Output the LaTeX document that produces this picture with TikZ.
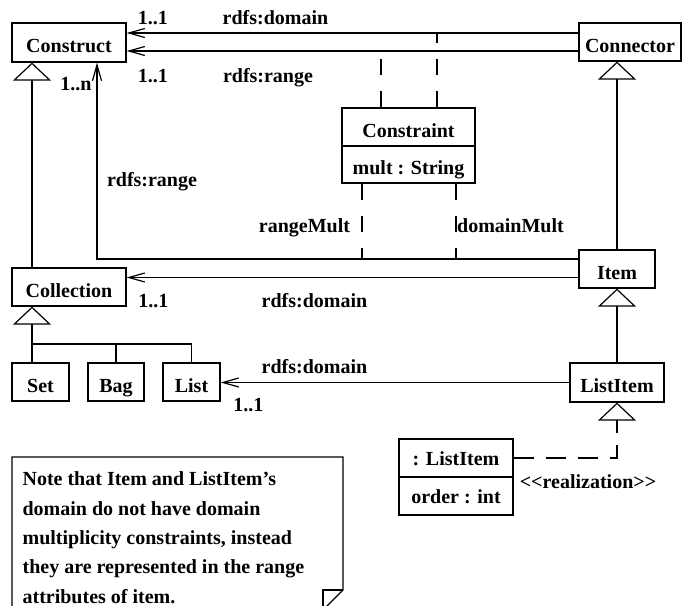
\documentclass[tikz,border=0pt]{standalone}
\usepackage{fontspec}
\setmainfont{Liberation Serif}
\usetikzlibrary{arrows.meta}
\begin{document}
\begin{tikzpicture}[x=0.5pt,y=-0.5pt,
  font=\fontsize{10}{14.65}\selectfont\bfseries,
  line width=0.6pt,
  cls/.style={draw, rectangle, inner sep=0pt, text height=10pt, text depth=0pt, minimum height=19pt},
  lbl/.style={anchor=base, inner sep=0pt},
  assoc/.style={-{Straight Barb[length=8pt,width=4.5pt]}},
  inherit/.style={-{Triangle[open,length=9pt,width=19pt]}},
  constr/.style={dash pattern=on 8pt off 8pt},
  realize/.style={dash pattern=on 10pt off 6pt, -{Triangle[open,length=9pt,width=19pt]}},
]
\useasboundingbox (0,0) rectangle (682,606);

% classes
\node[cls, minimum width=57pt, minimum height=19.5pt] (construct) at (69,42.5) {Construct};
\node[cls, minimum width=51pt] (connector) at (630,42) {Connector};
\node[cls, minimum width=66.5pt] (constraint) at (408.5,127) {Constraint};
\node[cls, minimum width=66.5pt, minimum height=18.5pt] (constraintattr) at (408.5,164.5) {mult : String};
\node[cls, minimum width=57pt] (collection) at (69,287) {Collection};
\node[cls, minimum width=38pt] (item) at (617,269) {Item};
\node[cls, minimum width=47pt, minimum height=19.5pt] (listitem) at (617,382.5) {ListItem};
\node[cls, minimum width=28.5pt] (set) at (40.5,382) {Set};
\node[cls, minimum width=28pt] (bag) at (116,382) {Bag};
\node[cls, minimum width=28.5pt] (list) at (191.5,382) {List};
\node[cls, minimum width=57pt, text height=7pt] (li) at (456,458) {: ListItem};
\node[cls, minimum width=57pt, text height=7pt] (liattr) at (456,496) {order : int};

% helper coordinates for routing
\coordinate (domY) at (0,33);
\coordinate (rngY) at (0,51);
\coordinate (cL) at (381,0);
\coordinate (cR) at (437,0);
\coordinate (cL2) at (362,0);
\coordinate (cR2) at (456,0);
\coordinate (rng2) at (0,259);
\coordinate (dom2) at (0,277.5);
\coordinate (rngX) at (97,0);
\coordinate (gx) at (32,0);
\coordinate (junc) at (32,344);

% associations
\draw[assoc] (connector.west |- domY) -- (construct.east |- domY);
\draw[assoc] (connector.west |- rngY) -- (construct.east |- rngY);
\draw[assoc] (item.west |- rng2) -| (construct.south -| rngX);
\draw[assoc] (item.west |- dom2) -- (collection.east |- dom2);
\draw[assoc] (listitem.west) -- (list.east |- listitem.west);

% association classes
\draw[constr] (constraint.north -| cL) -- (cL |- rngY);
\draw[constr] (constraint.north -| cR) -- (cR |- domY);
\draw[constr] (constraintattr.south -| cL2) -- (cL2 |- rng2);
\draw[constr] (constraintattr.south -| cR2) -- (cR2 |- rng2);

% generalisations
\draw[inherit] (collection.north -| gx) -- (construct.south -| gx);
\draw (set.north -| junc) -- (junc);
\draw (bag.north) |- (junc);
\draw (list.north) |- (junc);
\draw[inherit] (junc) -- (collection.south -| junc);
\draw[inherit] (item.north) -- (connector.south -| item.north);
\draw[inherit] (listitem.north) -- (item.south);
\draw[realize] (li.east) -| (listitem.south);

% labels
\node[lbl] (m1) at (153,24) {1..1};
\node[lbl] (ld1) at (275.5,24) {rdfs:domain};
\node[lbl] (m2) at (153,82) {1..1};
\node[lbl] (lr1) at (268,82) {rdfs:range};
\node[lbl] (mn) at (76,90) {1..n};
\node[lbl] (lr2) at (152,186) {rdfs:range};
\node[lbl] (rm) at (304.5,232) {rangeMult};
\node[lbl] (dm) at (510.5,232) {domainMult};
\node[lbl] (m3) at (153.5,307) {1..1};
\node[lbl] (ld2) at (314.5,307) {rdfs:domain};
\node[lbl] (ld3) at (314.5,373) {rdfs:domain};
\node[lbl] (m4) at (248.5,411) {1..1};
\node[lbl] (real) at (588,488) {{<}{<}realization{>}{>}};

% note with folded corner
\draw (12,620) -- (12,457) -- (343,457) -- (343,590) -- (323,610) -- (323,620);
\draw (323,610) -- (323,590) -- (343,590);
\node[anchor=north west, inner sep=0pt, align=left] (notetext) at (22,471.5)
  {Note that Item and ListItem's\\domain do not have domain\\multiplicity constraints, instead\\they are represented in the range\\attributes of item.};
\end{tikzpicture}
\end{document}
